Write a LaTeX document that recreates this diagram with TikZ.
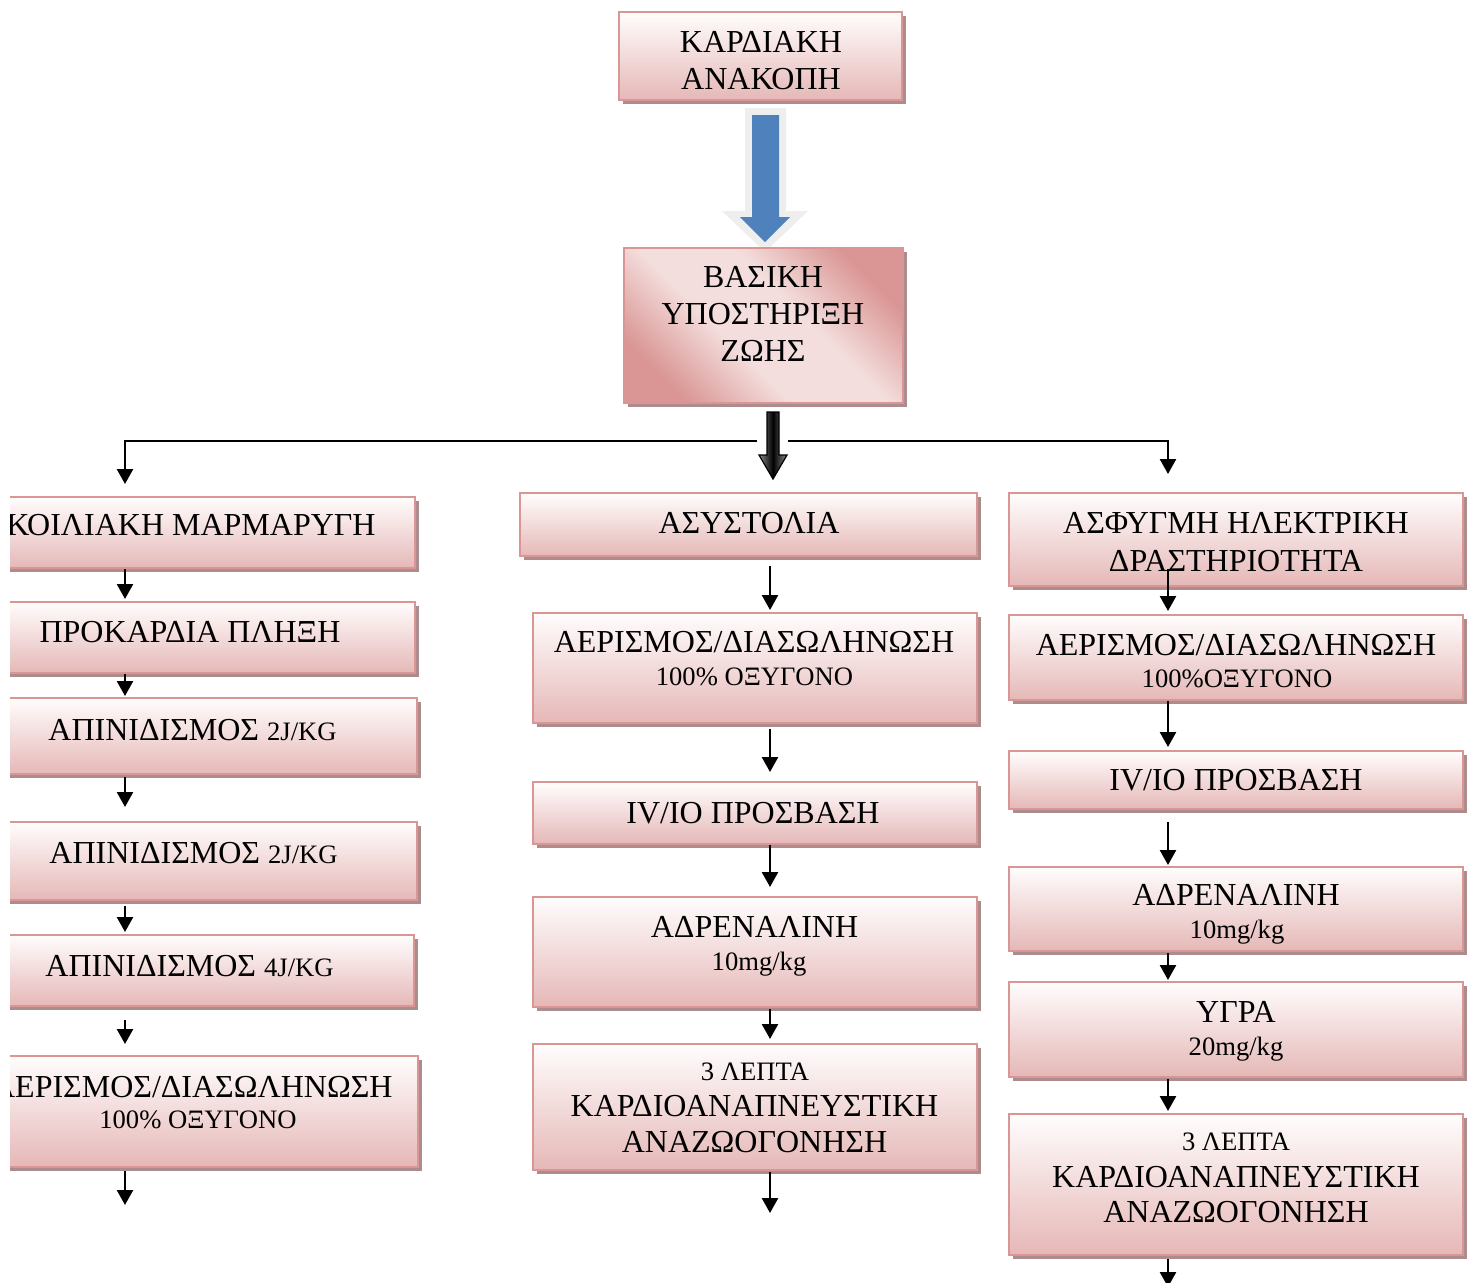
\documentclass[tikz,border=0pt]{standalone}
\usepackage{fontspec}
\setmainfont{Liberation Serif}
\usetikzlibrary{arrows.meta,shadows,fit}
\definecolor{bord}{RGB}{217,150,148}
\definecolor{pkbot}{RGB}{229,184,183}
\definecolor{pktop}{RGB}{255,253,253}
\definecolor{shcol}{RGB}{172,140,140}
\definecolor{pkdark}{RGB}{218,150,148}
\definecolor{pklight}{RGB}{243,222,221}
\definecolor{ablue}{RGB}{79,129,189}
\definecolor{glow}{RGB}{238,238,238}
\pgfdeclarehorizontalshading{diagpink}{100bp}{color(0bp)=(pkdark); color(25bp)=(pkdark); color(42bp)=(pklight); color(58bp)=(pklight); color(75bp)=(pkdark); color(100bp)=(pkdark)}
\tikzset{
  pbox/.style={draw=bord, line width=1pt, top color=pktop, bottom color=pkbot, inner sep=0pt,
    drop shadow={shadow xshift=2pt, shadow yshift=-2pt, fill=shcol, opacity=1}},
  pboxdiag/.style={draw=bord, line width=1pt, shading=diagpink, shading angle=45, inner sep=0pt,
    drop shadow={shadow xshift=2pt, shadow yshift=-2pt, fill=shcol, opacity=1}},
  arr/.style={line width=1.25pt, -{Triangle[width=8pt,length=7.5pt]}},
  bigtxt/.style={font=\fontsize{16}{18}\selectfont, inner sep=0pt, anchor=base},
  smalltxt/.style={font=\fontsize{13.3}{15}\selectfont, inner sep=0pt, anchor=base},
}
\newcommand\sm{\fontsize{13.3}{15}\selectfont}
\begin{document}
\begin{tikzpicture}[x=0.5pt,y=-0.5pt]
\fill[white] (0,0) rectangle (1473,1282);
\useasboundingbox (0,0) rectangle (1473,1282);
\coordinate (cL) at (125,0);
\coordinate (cM) at (770,0);
\coordinate (cR) at (1168,0);

% ---- top box
\node[pbox, fit={(619,12) (902,100)}] (top) {};
\node[bigtxt] (top1) at (761,52) {ΚΑΡΔΙΑΚΗ};
\node[bigtxt] (top2) at (761,89) {ΑΝΑΚΟΠΗ};

% ---- blue block arrow
\fill[glow] (745,108) -- (786,108) -- (786,211) -- (808,211) -- (765,252) -- (722,211) -- (745,211) -- cycle;
\fill[ablue] (752,115) -- (779,115) -- (779,217) -- (790,217) -- (765,242) -- (740,217) -- (752,217) -- cycle;

% ---- basic life support
\node[pboxdiag, fit={(624,248) (903,403)}] (bls) {};
\node[bigtxt] (bls1) at (763,287) {ΒΑΣΙΚΗ};
\node[bigtxt] (bls2) at (763,324) {ΥΠΟΣΤΗΡΙΞΗ};
\node[bigtxt] (bls3) at (763,361) {ΖΩΗΣ};

% ---- left column (clipped at the left edge)
\begin{scope}
\clip (10,0) rectangle (1473,1282);
\node[pbox, fit={(-40,497) (415,568)}] (L1) {};
\node[bigtxt, anchor=base east] (L1t) at (376,535) {ΚΟΙΛΙΑΚΗ ΜΑΡΜΑΡΥΓΗ};
\node[pbox, fit={(-40,602) (415,673)}] (L2) {};
\node[bigtxt] (L2t) at (190,642) {ΠΡΟΚΑΡΔΙΑ ΠΛΗΞΗ};
\node[pbox, fit={(-40,698) (417,774)}] (L3) {};
\node[bigtxt] (L3t) at (192.5,740) {ΑΠΙΝΙΔΙΣΜΟΣ {\sm 2J/KG}};
\node[pbox, fit={(-40,822) (417,900)}] (L4) {};
\node[bigtxt] (L4t) at (193.5,863) {ΑΠΙΝΙΔΙΣΜΟΣ {\sm 2J/KG}};
\node[pbox, fit={(-40,935) (414,1006)}] (L5) {};
\node[bigtxt] (L5t) at (189.5,976) {ΑΠΙΝΙΔΙΣΜΟΣ {\sm 4J/KG}};
\node[pbox, fit={(-40,1056) (418,1167)}] (L6) {};
\node[bigtxt, anchor=base east] (L6t) at (393,1097) {ΑΕΡΙΣΜΟΣ/ΔΙΑΣΩΛΗΝΩΣΗ};
\node[smalltxt] (L6s) at (198,1128) {100\% ΟΞΥΓΟΝΟ};
\end{scope}

% ---- middle column
\node[pbox, fit={(520,493) (977,556)}] (M1) {};
\node[bigtxt] (M1t) at (749,533) {ΑΣΥΣΤΟΛΙΑ};
\node[pbox, fit={(533,613) (977,723)}] (M2) {};
\node[bigtxt] (M2t) at (754,652) {ΑΕΡΙΣΜΟΣ/ΔΙΑΣΩΛΗΝΩΣΗ};
\node[smalltxt] (M2s) at (754.5,685) {100\% ΟΞΥΓΟΝΟ};
\node[pbox, fit={(533,782) (977,844)}] (M3) {};
\node[bigtxt] (M3t) at (753,823) {IV/IO ΠΡΟΣΒΑΣΗ};
\node[pbox, fit={(533,897) (977,1007)}] (M4) {};
\node[bigtxt] (M4t) at (754.5,937) {ΑΔΡΕΝΑΛΙΝΗ};
\node[smalltxt] (M4s) at (759,970) {10mg/kg};
\node[pbox, fit={(533,1044) (977,1170)}] (M5) {};
\node[smalltxt] (M5a) at (755,1080) {3 ΛΕΠΤΑ};
\node[bigtxt] (M5b) at (754.5,1116) {ΚΑΡΔΙΟΑΝΑΠΝΕΥΣΤΙΚΗ};
\node[bigtxt] (M5c) at (754.5,1152) {ΑΝΑΖΩΟΓΟΝΗΣΗ};

% ---- right column
\node[pbox, fit={(1009,493) (1463,586)}] (R1) {};
\node[bigtxt] (R1a) at (1236,533) {ΑΣΦΥΓΜΗ ΗΛΕΚΤΡΙΚΗ};
\node[bigtxt] (R1b) at (1236,571) {ΔΡΑΣΤΗΡΙΟΤΗΤΑ};
\node[pbox, fit={(1009,615) (1463,700)}] (R2) {};
\node[bigtxt] (R2a) at (1236,655) {ΑΕΡΙΣΜΟΣ/ΔΙΑΣΩΛΗΝΩΣΗ};
\node[smalltxt] (R2b) at (1237,687) {100\%ΟΞΥΓΟΝΟ};
\node[pbox, fit={(1009,751) (1463,809)}] (R3) {};
\node[bigtxt] (R3t) at (1236,790) {IV/IO ΠΡΟΣΒΑΣΗ};
\node[pbox, fit={(1009,867) (1463,951)}] (R4) {};
\node[bigtxt] (R4a) at (1236,905) {ΑΔΡΕΝΑΛΙΝΗ};
\node[smalltxt] (R4b) at (1237,938) {10mg/kg};
\node[pbox, fit={(1009,982) (1463,1077)}] (R5) {};
\node[bigtxt] (R5a) at (1236,1022) {ΥΓΡΑ};
\node[smalltxt] (R5b) at (1236,1055) {20mg/kg};
\node[pbox, fit={(1009,1114) (1463,1255)}] (R6) {};
\node[smalltxt] (R6a) at (1236,1150) {3 ΛΕΠΤΑ};
\node[bigtxt] (R6b) at (1236,1187) {ΚΑΡΔΙΟΑΝΑΠΝΕΥΣΤΙΚΗ};
\node[bigtxt] (R6c) at (1236,1222) {ΑΝΑΖΩΟΓΟΝΗΣΗ};

% ---- branching connector
\coordinate (hubL) at (757,441);
\coordinate (hubR) at (788,441);
\draw[arr] (hubL) -| ([yshift=6pt]L1.north -| cL);
\draw[arr] (hubR) -| ([yshift=9pt]R1.north -| cR);
\shade[left color=black!45, right color=black!45, middle color=black, draw=black, line width=0.6pt]
  (767,412) -- (779,412) -- (779,455) -- (787,455) -- (773,479) -- (759,455) -- (767,455) -- cycle;

% ---- left arrows
\draw[arr] (L1.south -| cL) -- ([yshift=1pt]L2.north -| cL);
\draw[arr] (L2.south -| cL) -- ([yshift=0.5pt]L3.north -| cL);
\draw[arr] ([yshift=-1pt]L3.south -| cL) -- ([yshift=7pt]L4.north -| cL);
\draw[arr] ([yshift=-2.5pt]L4.south -| cL) -- ([yshift=1pt]L5.north -| cL);
\draw[arr] ([yshift=-6.5pt]L5.south -| cL) -- ([yshift=5.5pt]L6.north -| cL);
\coordinate (L6end) at (125,1205);
\draw[arr] ([yshift=-1.5pt]L6.south -| cL) -- (L6end);

% ---- middle arrows
\draw[arr] ([yshift=-4.5pt]M1.south -| cM) -- ([yshift=1pt]M2.north -| cM);
\draw[arr] ([yshift=-2.5pt]M2.south -| cM) -- ([yshift=4.5pt]M3.north -| cM);
\draw[arr] (M3.south -| cM) -- ([yshift=4.5pt]M4.north -| cM);
\draw[arr] ([yshift=-0.5pt]M4.south -| cM) -- ([yshift=2pt]M5.north -| cM);
\coordinate (M5end) at (770,1213);
\draw[arr] ([yshift=-0.5pt]M5.south -| cM) -- (M5end);

% ---- right arrows
\draw[arr] ([yshift=9pt]R1.south -| cR) -- ([yshift=1.5pt]R2.north -| cR);
\draw[arr] (R2.south -| cR) -- ([yshift=1.5pt]R3.north -| cR);
\draw[arr] ([yshift=-6pt]R3.south -| cR) -- ([yshift=0.5pt]R4.north -| cR);
\draw[arr] ([yshift=-0.5pt]R4.south -| cR) -- ([yshift=0.5pt]R5.north -| cR);
\draw[arr] ([yshift=-0.5pt]R5.south -| cR) -- ([yshift=1pt]R6.north -| cR);
\coordinate (R6end) at (1168,1287);
\draw[arr] ([yshift=-1.5pt]R6.south -| cR) -- (R6end);
\end{tikzpicture}
\end{document}
